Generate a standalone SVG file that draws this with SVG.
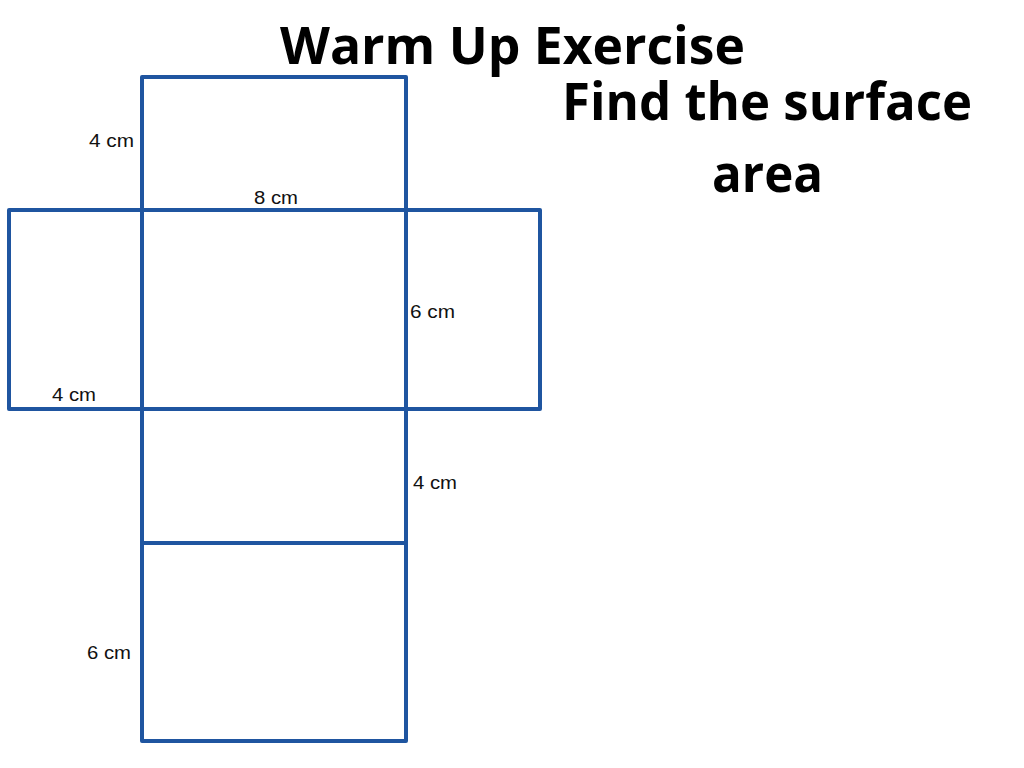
<svg xmlns="http://www.w3.org/2000/svg" width="1024" height="768" viewBox="0 0 1024 768">
<style>
.title{font-family:"Open Sans","Noto Sans",sans-serif;font-weight:bold;fill:#000}
.lbl{font-family:"Liberation Sans",Arial,sans-serif;font-size:18px;fill:#111}
.edge{stroke:#1f55a0;stroke-width:4;fill:none;stroke-linecap:round;stroke-linejoin:round}
</style>
<rect width="1024" height="768" fill="#fff"/>
<g id="titles">
<text class="title" x="280" y="64" font-size="52" textLength="465" lengthAdjust="spacingAndGlyphs">Warm Up Exercise</text>
<text class="title" x="562" y="120" font-size="52" textLength="410" lengthAdjust="spacingAndGlyphs">Find the surface</text>
<text class="title" x="712" y="192" font-size="52" textLength="111" lengthAdjust="spacingAndGlyphs">area</text>
</g>
<g id="connectors">
<rect id="top-face" class="edge" x="142" y="77" width="264" height="133"/>
<rect id="left-face" class="edge" x="9" y="210" width="133" height="199"/>
<rect id="center-face" class="edge" x="142" y="210" width="264" height="199"/>
<rect id="right-face" class="edge" x="406" y="210" width="134" height="199"/>
<rect id="lower-face" class="edge" x="142" y="409" width="264" height="134"/>
<rect id="bottom-face" class="edge" x="142" y="543" width="264" height="198"/>
</g>
<g id="labels">
<text class="lbl" x="89" y="147" textLength="45" lengthAdjust="spacingAndGlyphs">4 cm</text>
<text class="lbl" x="254" y="204" textLength="44" lengthAdjust="spacingAndGlyphs">8 cm</text>
<text class="lbl" x="410" y="318" textLength="45" lengthAdjust="spacingAndGlyphs">6 cm</text>
<text class="lbl" x="52" y="401" textLength="44" lengthAdjust="spacingAndGlyphs">4 cm</text>
<text class="lbl" x="413" y="489" textLength="44" lengthAdjust="spacingAndGlyphs">4 cm</text>
<text class="lbl" x="87" y="659" textLength="44" lengthAdjust="spacingAndGlyphs">6 cm</text>
</g>
</svg>
